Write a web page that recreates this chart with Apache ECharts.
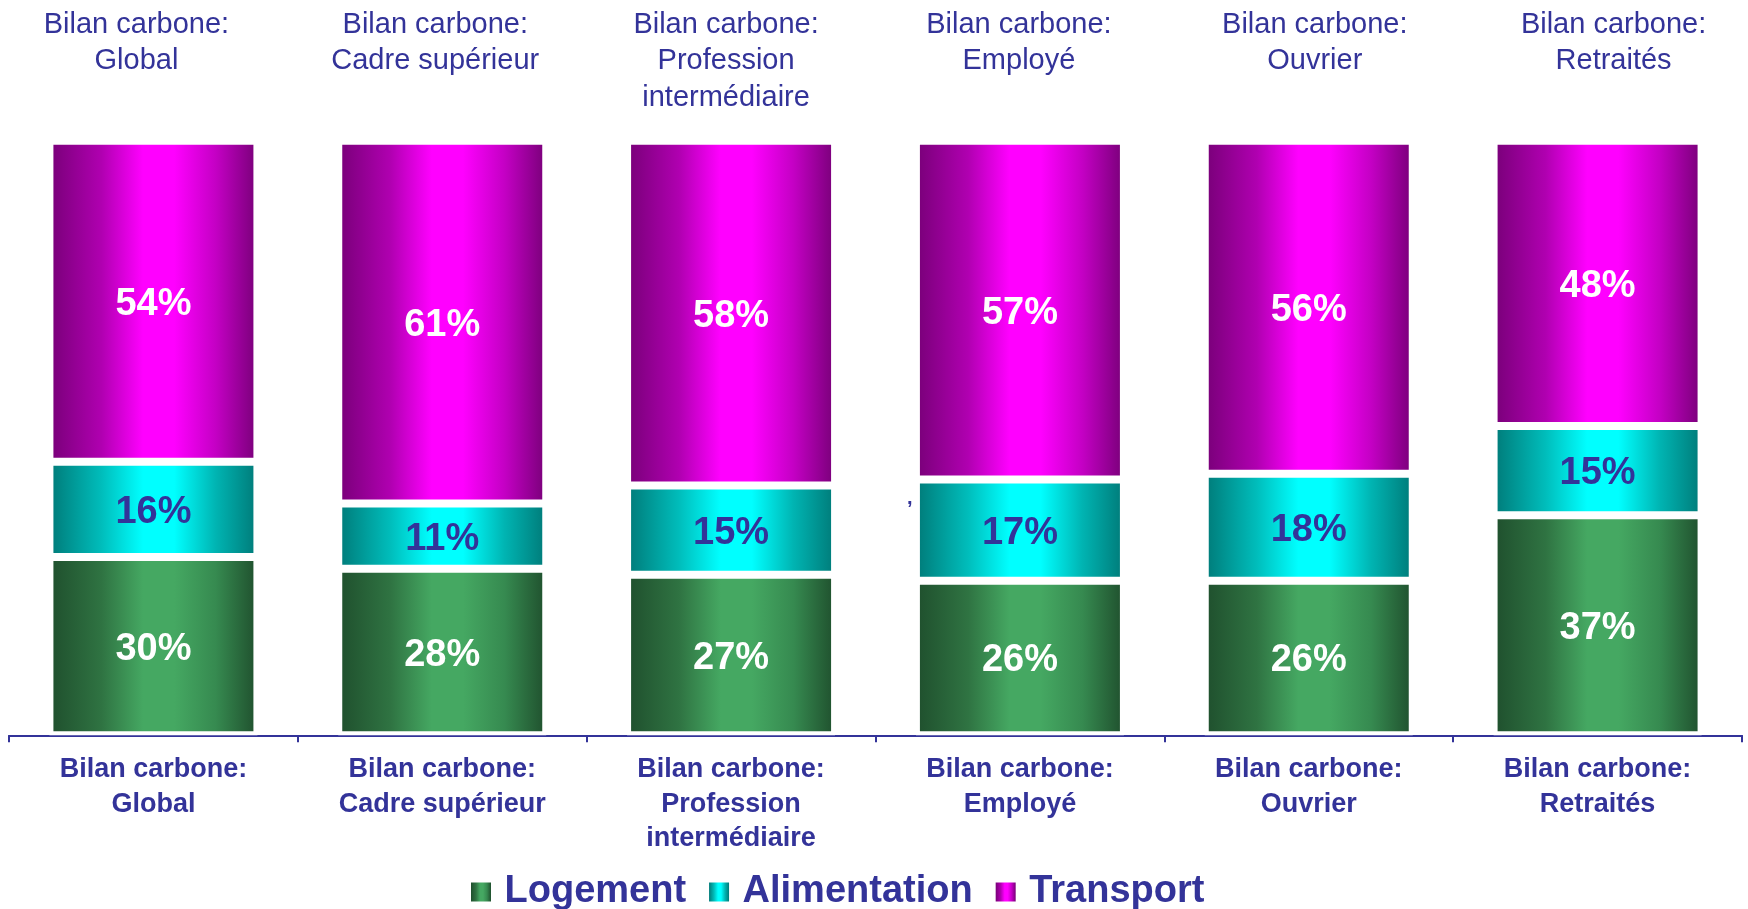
<!DOCTYPE html>
<html>
<head>
<meta charset="utf-8">
<script src="https://cdn.jsdelivr.net/npm/echarts@6/dist/echarts.min.js"></script>
<style>
  html, body { margin: 0; padding: 0; background: #ffffff; }
  #chart { width: 1748px; height: 909px; }
</style>
</head>
<body>
<div id="chart"></div>
<script>
// Carbon footprint share by socio-professional group (%)
const categories = [
  'Bilan carbone:\nGlobal',
  'Bilan carbone:\nCadre supérieur',
  'Bilan carbone:\nProfession\nintermédiaire',
  'Bilan carbone:\nEmployé',
  'Bilan carbone:\nOuvrier',
  'Bilan carbone:\nRetraités'
];
const seriesNames = ['Logement', 'Alimentation', 'Transport'];
const logement = [30, 28, 27, 26, 26, 37];
const alimentation = [16, 11, 15, 17, 18, 15];
const transport = [54, 61, 58, 57, 56, 48];

// horizontal nudge (px) of each title above the columns; they are spread a bit wider than the columns
const titleShift = [-17, -7, -5, -1, 6, 16];

const FONT = "'Liberation Sans', Arial, sans-serif";
const NAVY = '#333399';

// horizontal "cylinder" shading: dark edges, bright middle
function shade(edge, mid, bright, mid2) {
  return new echarts.graphic.LinearGradient(0, 0, 1, 0, [
    { offset: 0, color: edge },
    { offset: 0.25, color: mid },
    { offset: 0.45, color: bright },
    { offset: 0.6, color: bright },
    { offset: 0.8, color: mid2 },
    { offset: 1, color: edge }
  ]);
}

const fills = {
  Logement: shade('#1f4f2d', '#2f7342', '#45a862', '#368a50'),
  Alimentation: shade('#007a78', '#00bdbb', '#00ffff', '#00b4b2'),
  Transport: shade('#780078', '#b000b0', '#ff00ff', '#c400c4')
};

function barSeries(name, values, labelColor) {
  return {
    name: name,
    type: 'bar',
    stack: 'total',
    xAxisIndex: 0,
    yAxisIndex: 0,
    barWidth: 208,
    data: values,
    itemStyle: {
      color: fills[name],
      borderColor: '#ffffff',
      borderWidth: 4
    },
    label: {
      show: true,
      position: 'inside',
      offset: [0, 3],
      formatter: '{c}%',
      fontFamily: FONT,
      fontWeight: 'bold',
      fontSize: 38,
      color: labelColor
    },
    emphasis: { disabled: true }
  };
}

// titles above the columns, each nudged sideways by padding on one side
const topTitles = categories.map(function (c, i) {
  const d = titleShift[i];
  return {
    value: c,
    textStyle: { padding: d < 0 ? [0, -2 * d, 0, 0] : [0, 0, 0, 2 * d] }
  };
});

const chart = echarts.init(document.getElementById('chart'), null, { renderer: 'canvas' });

chart.setOption({
  backgroundColor: '#ffffff',
  animation: false,
  grid: [
    { left: 9, right: 6, top: 140.7, bottom: 173.7, containLabel: false },
    { left: 9, right: 6, top: 0, height: 2, containLabel: false }
  ],
  xAxis: [
    {
      type: 'category',
      gridIndex: 0,
      data: categories,
      position: 'bottom',
      offset: 2,
      axisLine: { show: true, lineStyle: { color: NAVY, width: 2 } },
      axisTick: { show: true, alignWithLabel: false, length: 7, lineStyle: { color: NAVY, width: 2 } },
      axisLabel: {
        interval: 0,
        margin: 15,
        fontFamily: FONT,
        fontWeight: 'bold',
        fontSize: 27,
        lineHeight: 34.5,
        color: NAVY
      }
    },
    {
      type: 'category',
      gridIndex: 1,
      data: topTitles,
      position: 'bottom',
      axisLine: { show: false },
      axisTick: { show: false },
      axisLabel: {
        interval: 0,
        margin: 4.5,
        fontFamily: FONT,
        fontSize: 29,
        lineHeight: 36.6,
        color: NAVY
      }
    }
  ],
  yAxis: [
    { type: 'value', gridIndex: 0, min: 0, max: 100, show: false },
    { type: 'value', gridIndex: 1, min: 0, max: 1, show: false }
  ],
  legend: {
    data: seriesNames,
    left: 466,
    top: 868,
    icon: 'rect',
    itemWidth: 20,
    itemHeight: 19,
    itemGap: 23,
    itemStyle: { borderWidth: 0 },
    textStyle: {
      fontFamily: FONT,
      fontWeight: 'bold',
      fontSize: 38,
      color: NAVY,
      padding: [0, 0, 0, 8.5]
    }
  },
  // stray separator left of the "Employé" food segment
  graphic: [
    {
      type: 'text',
      left: 907,
      top: 488,
      silent: true,
      style: {
        text: ',',
        fontFamily: FONT,
        fontWeight: 'bold',
        fontSize: 20,
        fill: NAVY
      }
    }
  ],
  series: [
    barSeries('Logement', logement, '#ffffff'),
    barSeries('Alimentation', alimentation, NAVY),
    barSeries('Transport', transport, '#ffffff')
  ]
});
</script>
</body>
</html>
